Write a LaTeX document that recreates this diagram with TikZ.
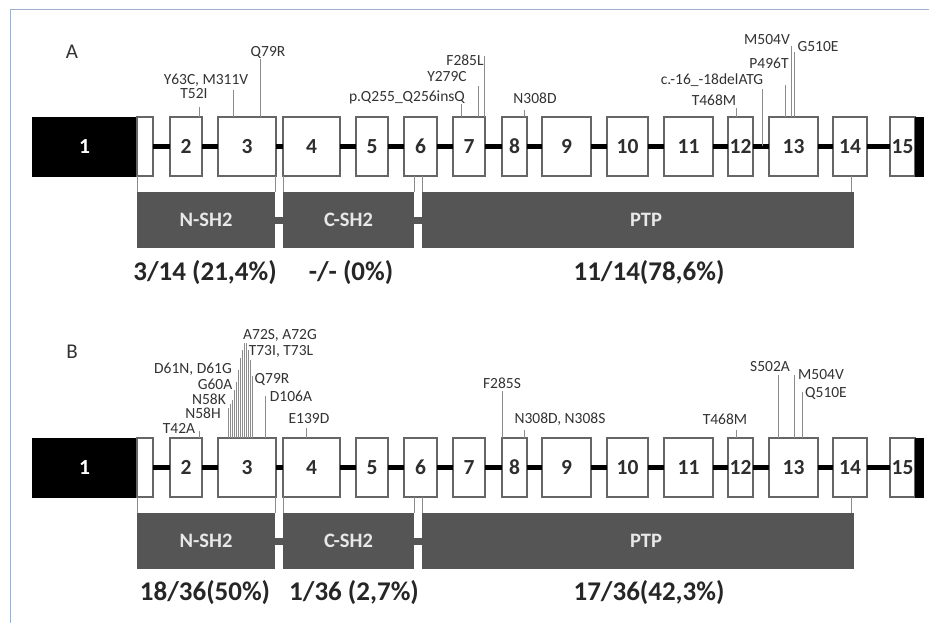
\documentclass[tikz,border=0pt]{standalone}
\usepackage{fontspec}
\setmainfont{Carlito}
\usetikzlibrary{calc}
\definecolor{framec}{HTML}{9DB2CC}
\definecolor{exonline}{HTML}{666666}
\definecolor{domfill}{HTML}{555555}
\definecolor{domtext}{HTML}{E8E8E8}
\definecolor{mutc}{HTML}{333333}
\definecolor{mutline}{HTML}{8C8C8C}
\definecolor{numc}{HTML}{2E2E2E}
\begin{document}
\begin{tikzpicture}[x=1pt,y=-1pt,
  exonbox/.style={draw=exonline, line width=1.3pt, fill=white, inner sep=0pt, outer sep=0pt,
    minimum height=59pt, font=\fontsize{21.5}{24}\selectfont\bfseries, text=numc},
  blackbox/.style={draw=black, fill=black, inner sep=0pt, outer sep=0pt, minimum height=59pt,
    font=\fontsize{21.5}{24}\selectfont\bfseries, text=white},
  intron/.style={line width=5pt, black},
  dombox/.style={fill=domfill, inner sep=0pt, outer sep=0pt, minimum height=56pt,
    font=\fontsize{20.5}{24}\selectfont\bfseries, text=domtext},
  domlink/.style={line width=7pt, domfill},
  domconn/.style={line width=0.9pt, mutline},
  mut/.style={inner sep=0pt, font=\fontsize{15.5}{18}\selectfont, text=mutc},
  mutl/.style={line width=0.8pt, mutline},
  pct/.style={inner sep=0pt, font=\fontsize{27}{30}\selectfont\bfseries, text=black!85},
  panel/.style={inner sep=0pt, font=\fontsize{21}{24}\selectfont, text=black!80}
]
\fill[white] (0,0) rectangle (929,623);
\useasboundingbox (0,0) rectangle (929,623);
\draw[framec, line width=1pt] (10,623) -- (10,10) -- (929,10);

\node[panel] (labA) at (72,52) {A};
\node[panel] (labB) at (72,352) {B};

\foreach \p/\dy in {A/0, B/321}{
  \pgfmathsetmacro\yc{146.5+\dy}
  \node[blackbox, minimum width=105pt] (\p1) at (84.5,\yc) {1};
  \node[exonbox, minimum width=16pt] (\p1w) at (145,\yc) {};
  \foreach \n/\a/\b in {2/170/202, 3/218/276, 4/283/340, 5/356/388, 6/404/437,
      7/453/485, 8/502/527, 9/542/591, 10/607/648, 11/664/713, 12/728/753,
      13/769/818, 14/833/867, 15/890/915}{
    \pgfmathsetmacro\c{(\a+\b)/2}
    \pgfmathsetmacro\w{\b-\a}
    \node[exonbox, minimum width=\w pt] (\p\n) at (\c,\yc) {\n};
  }
  \node[blackbox, minimum width=8pt] (\p15b) at (919,\yc) {};
  \foreach \i/\j in {1w/2, 2/3, 3/4, 4/5, 5/6, 6/7, 7/8, 8/9, 9/10, 10/11, 11/12, 12/13, 13/14, 14/15}{
    \draw[intron] (\p\i.east) -- (\p\j.west);
  }
  % domains
  \pgfmathsetmacro\yd{220+\dy}
  \node[dombox, minimum width=138pt] (\p nsh) at (206,\yd) {N-SH2};
  \node[dombox, minimum width=131pt] (\p csh) at (348.5,\yd) {C-SH2};
  \node[dombox, minimum width=432pt] (\p ptp) at (638,\yd) {\hspace*{16pt}PTP};
  \draw[domlink] (\p nsh.east) -- (\p csh.west);
  \draw[domlink] (\p csh.east) -- (\p ptp.west);
  \draw[domconn] (\p1w.south west) -- (\p nsh.north west);
  \draw[domconn] (\p nsh.north east |- \p3.south) -- (\p nsh.north east);
  \draw[domconn] (\p csh.north west |- \p4.south) -- (\p csh.north west);
  \draw[domconn] (\p csh.north east |- \p6.south) -- (\p csh.north east);
  \draw[domconn] (\p ptp.north west |- \p6.south) -- (\p ptp.north west);
  \draw[domconn] ([xshift=-3pt]\p ptp.north east |- \p14.south) -- ([xshift=-3pt]\p ptp.north east);
}

% percentages
\node[pct] (pA1) at (205,273) {3/14 (21,4\%)};
\node[pct] (pA2) at (351,273) {-/- (0\%)};
\node[pct] (pA3) at (649,273) {11/14(78,6\%)};
\node[pct] (pB1) at (205,593) {18/36(50\%)};
\node[pct] (pB2) at (354,593) {1/36 (2,7\%)};
\node[pct] (pB3) at (649,593) {17/36(42,3\%)};

% ---------- Panel A mutations ----------
\node[mut] (mA1) at (268,52) {Q79R};
\node[mut] (mA2) at (206,80) {Y63C, M311V};
\node[mut] (mA3) at (194,94) {T52I};
\node[mut] (mA4) at (407,97) {p.Q255\_Q256insQ};
\node[mut] (mA5) at (447,77) {Y279C};
\node[mut] (mA6) at (465,60) {F285L};
\node[mut] (mA7) at (535,98) {N308D};
\node[mut] (mA8) at (712,80) {c.-16\_-18delATG};
\node[mut] (mA9) at (714,100) {T468M};
\node[mut] (mA10) at (769,63) {P496T};
\node[mut] (mA11) at (767,40) {M504V};
\node[mut] (mA12) at (818,47) {G510E};

\coordinate (cA1) at (260,59);
\coordinate (cA2) at (233,90);
\coordinate (cA3) at (199,107);
\coordinate (cA4) at (461,104);
\coordinate (cA5) at (478,86);
\coordinate (cA6) at (484,56);
\coordinate (cA7) at (524,110);
\coordinate (cA8) at (762,89);
\coordinate (cA9) at (736,108);
\coordinate (cA10) at (785,85);
\coordinate (cA11) at (791,46);
\coordinate (cA12) at (794,52);
\draw[mutl] (cA1) -- (cA1 |- A3.north);
\draw[mutl] (cA2) -- (cA2 |- A3.north);
\draw[mutl] (cA3) -- (cA3 |- A2.north);
\draw[mutl] (cA4) -- (cA4 |- A7.north);
\draw[mutl] (cA5) -- (cA5 |- A7.north);
\draw[mutl] (cA6) -- (cA6 |- A7.north);
\draw[mutl] (cA7) -- (cA7 |- A8.north);
\draw[mutl] (cA8) -- (cA8 |- A12.east);
\draw[mutl] (cA9) -- (cA9 |- A12.north);
\draw[mutl] (cA10) -- (cA10 |- A13.north);
\draw[mutl] (cA11) -- (cA11 |- A13.north);
\draw[mutl] (cA12) -- (cA12 |- A13.north);

% ---------- Panel B mutations ----------
\node[mut] (mB1) at (280,335) {A72S, A72G};
\node[mut] (mB2) at (281,351) {T73I, T73L};
\node[mut] (mB3) at (193,369) {D61N, D61G};
\node[mut] (mB4) at (215,384) {G60A};
\node[mut] (mB5) at (272,379) {Q79R};
\node[mut] (mB6) at (209,399) {N58K};
\node[mut] (mB7) at (291,396) {D106A};
\node[mut] (mB8) at (203,413) {N58H};
\node[mut] (mB9) at (309,419) {E139D};
\node[mut] (mB10) at (179,428) {T42A};
\node[mut] (mB11) at (502,383) {F285S};
\node[mut] (mB12) at (560,419) {N308D, N308S};
\node[mut] (mB13) at (725,419) {T468M};
\node[mut] (mB14) at (770,367) {S502A};
\node[mut] (mB15) at (821,375) {M504V};
\node[mut] (mB16) at (826,393) {Q510E};

\foreach \k/\x/\t in {1/228/408, 2/230/404, 3/232/400, 4/234/390, 5/236/382, 6/238/370,
    7/240/358, 8/242/350, 9/244/343, 10/246/343, 11/248/350, 12/250/360, 13/252/376}{
  \coordinate (cc\k) at (\x,\t);
  \draw[mutl, line width=0.7pt] (cc\k) -- (cc\k |- B3.north);
}
\coordinate (cB1) at (265,396);
\coordinate (cB2) at (199,431);
\coordinate (cB3) at (306,428);
\coordinate (cB4) at (502,391);
\coordinate (cB5) at (524,430);
\coordinate (cB6) at (736,430);
\coordinate (cB7) at (778,375);
\coordinate (cB8) at (794,375);
\coordinate (cB9) at (802,392);
\draw[mutl] (cB1) -- (cB1 |- B3.north);
\draw[mutl] (cB2) -- (cB2 |- B2.north);
\draw[mutl] (cB3) -- (cB3 |- B4.north);
\draw[mutl] (cB4) -- (cB4 |- B8.north);
\draw[mutl] (cB5) -- (cB5 |- B8.north);
\draw[mutl] (cB6) -- (cB6 |- B12.north);
\draw[mutl] (cB7) -- (cB7 |- B13.north);
\draw[mutl] (cB8) -- (cB8 |- B13.north);
\draw[mutl] (cB9) -- (cB9 |- B13.north);
\end{tikzpicture}
\end{document}
